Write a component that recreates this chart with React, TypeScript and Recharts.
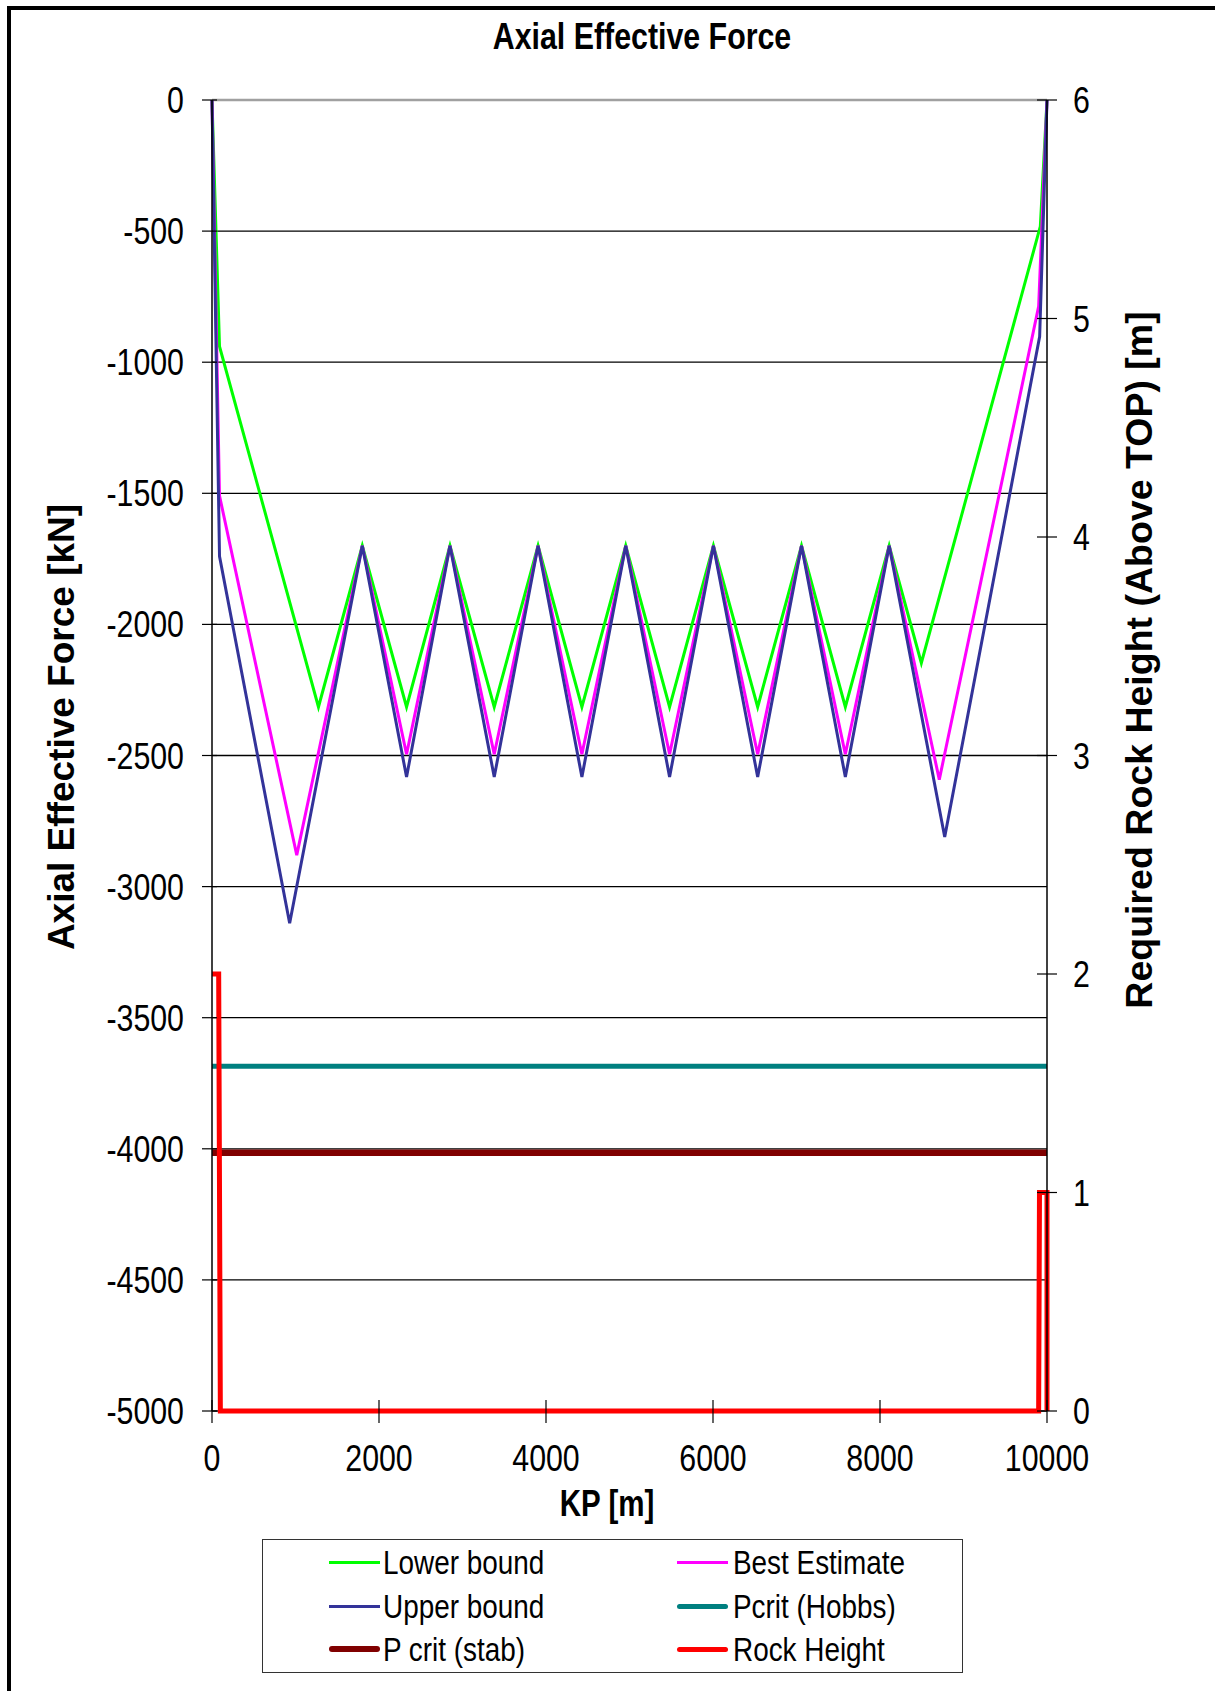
import React from 'react'
import { LineChart, Line, XAxis, YAxis, CartesianGrid, ReferenceLine } from 'recharts'

// KP [m] / axial effective force [kN]
const lowerKp = [0, 90, 1275, 1800, 2330, 2850, 3380, 3905, 4430, 4955, 5480, 6005, 6535, 7060, 7585, 8110, 8495, 9920, 10000]
const lowerKn = [0, -940, -2315, -1700, -2315, -1700, -2315, -1700, -2315, -1700, -2315, -1700, -2315, -1700, -2315, -1700, -2147, -482, 0]

const bestKp = [0, 90, 1015, 1800, 2330, 2850, 3380, 3905, 4430, 4955, 5480, 6005, 6535, 7060, 7585, 8110, 8710, 9900, 10000]
const bestKn = [0, -1510, -2880, -1700, -2495, -1700, -2495, -1700, -2495, -1700, -2495, -1700, -2495, -1700, -2495, -1700, -2592, -787, 0]

const upperKp = [0, 90, 930, 1800, 2330, 2850, 3380, 3905, 4430, 4955, 5480, 6005, 6535, 7060, 7585, 8110, 8775, 9912, 10000]
const upperKn = [0, -1740, -3140, -1700, -2582, -1700, -2582, -1700, -2582, -1700, -2582, -1700, -2582, -1700, -2582, -1700, -2811, -902, 0]

const hobbsKp = [0, 10000]
const hobbsKn = [-3685, -3685]

const stabKp = [0, 10000]
const stabKn = [-4015, -4015]

// rock height on the right axis [m]
const rockKp = [0, 80, 100, 9900, 9910, 10000, 10000]
const rockH = [2, 2, 0, 0, 1, 1, 0]

const xTicks = [0, 2000, 4000, 6000, 8000, 10000]
const forceTicks = [-5000, -4500, -4000, -3500, -3000, -2500, -2000, -1500, -1000, -500, 0]
const rockTicks = [0, 1, 2, 3, 4, 5, 6]

const pts = (xs: number[], ys: number[]) => xs.map((x, i) => ({ x, y: ys[i] }))

const W = 1215
const H = 1691
const FONT = '"Liberation Sans", Arial, sans-serif'

const legendItems = [
  { label: 'Lower bound', color: '#00ff00', w: 3 },
  { label: 'Best Estimate', color: '#ff00ff', w: 3 },
  { label: 'Upper bound', color: '#333399', w: 3 },
  { label: 'Pcrit (Hobbs)', color: '#008080', w: 5 },
  { label: 'P crit (stab)', color: '#800000', w: 6 },
  { label: 'Rock Height', color: '#ff0000', w: 5 },
]

function LeftTick({ x, y, payload }: any) {
  return (
    <g>
      <line x1={x + 18} x2={x + 33} y1={y} y2={y} stroke="#000" strokeWidth={1.2} />
      <text transform={`translate(${x},${y + 13}) scale(0.82,1)`} textAnchor="end" fontSize={37} fontFamily={FONT} fill="#000">
        {String(payload.value)}
      </text>
    </g>
  )
}

function RightTick({ x, y, payload }: any) {
  return (
    <g>
      <line x1={x - 36} x2={x - 16} y1={y} y2={y} stroke="#000" strokeWidth={1.2} />
      <text transform={`translate(${x},${y + 13}) scale(0.82,1)`} textAnchor="start" fontSize={37} fontFamily={FONT} fill="#000">
        {String(payload.value)}
      </text>
    </g>
  )
}

function BottomTick({ x, y, payload }: any) {
  return (
    <g>
      <line x1={x} x2={x} y1={y - 45} y2={y - 22} stroke="#000" strokeWidth={1.2} />
      <text transform={`translate(${x},${y + 26}) scale(0.82,1)`} textAnchor="middle" fontSize={37} fontFamily={FONT} fill="#000">
        {String(payload.value)}
      </text>
    </g>
  )
}

const abs = (left: number, top: number): React.CSSProperties => ({ position: 'absolute', left, top, whiteSpace: 'nowrap', lineHeight: 1 })

export default function App() {
  return (
    <div style={{ position: 'absolute', left: 0, top: 0, width: W, height: H, background: '#fff', overflow: 'hidden', fontFamily: FONT, color: '#000' }}>
      <div style={{ position: 'absolute', left: 7, top: 6, width: W, height: H, borderTop: '4px solid #000', borderLeft: '4px solid #000' }} />

      <div style={{ position: 'absolute', left: 0, top: 0 }}>
        <LineChart width={W} height={H} margin={{ top: 100, right: 0, bottom: 220, left: 0 }}>
          <CartesianGrid horizontal vertical={false} stroke="#000" strokeWidth={1.3} />
          <XAxis
            type="number"
            dataKey="x"
            domain={[0, 10000]}
            ticks={xTicks}
            interval={0}
            height={60}
            tickSize={12}
            tickMargin={22}
            tickLine={false}
            axisLine={false}
            tick={(p: any) => <BottomTick {...p} />}
          />
          <YAxis
            type="number"
            domain={[-5000, 0]}
            ticks={forceTicks}
            interval={0}
            width={212}
            tickSize={10}
            tickMargin={18}
            tickLine={false}
            axisLine={{ stroke: '#000', strokeWidth: 1.5 }}
            tick={(p: any) => <LeftTick {...p} />}
          />
          <YAxis
            yAxisId="right"
            orientation="right"
            type="number"
            domain={[0, 6]}
            ticks={rockTicks}
            interval={0}
            width={168}
            tickSize={10}
            tickMargin={16}
            tickLine={false}
            axisLine={{ stroke: '#000', strokeWidth: 1.5 }}
            tick={(p: any) => <RightTick {...p} />}
          />
          <ReferenceLine y={0} stroke="#a0a0a0" strokeWidth={2.5} />
          <Line data={pts(lowerKp, lowerKn)} dataKey="y" type="linear" stroke="#00ff00" strokeWidth={3} dot={false} isAnimationActive={false} />
          <Line data={pts(bestKp, bestKn)} dataKey="y" type="linear" stroke="#ff00ff" strokeWidth={3} dot={false} isAnimationActive={false} />
          <Line data={pts(upperKp, upperKn)} dataKey="y" type="linear" stroke="#333399" strokeWidth={3} dot={false} isAnimationActive={false} />
          <Line data={pts(hobbsKp, hobbsKn)} dataKey="y" type="linear" stroke="#008080" strokeWidth={5} dot={false} isAnimationActive={false} />
          <Line data={pts(stabKp, stabKn)} dataKey="y" type="linear" stroke="#800000" strokeWidth={6.5} dot={false} isAnimationActive={false} />
          <Line data={pts(rockKp, rockH)} yAxisId="right" dataKey="y" type="linear" stroke="#ff0000" strokeWidth={5} dot={false} isAnimationActive={false} />
        </LineChart>
      </div>

      {/* title and axis titles */}
      <div style={{ ...abs(642, 36), fontSize: 37, fontWeight: 700, transform: 'translate(-50%,-50%) scaleX(0.82)' }}>Axial Effective Force</div>
      <div style={{ ...abs(61, 727), fontSize: 37, fontWeight: 700, transform: 'translate(-50%,-50%) rotate(-90deg)' }}>Axial Effective Force [kN]</div>
      <div style={{ ...abs(1140, 660), fontSize: 37.5, fontWeight: 700, transform: 'translate(-50%,-50%) rotate(-90deg)' }}>Required Rock Height (Above TOP) [m]</div>
      <div style={{ ...abs(607, 1504), fontSize: 36, fontWeight: 700, transform: 'translate(-50%,-50%) scaleX(0.82)' }}>KP [m]</div>

      {/* legend */}
      <div style={{ position: 'absolute', left: 262, top: 1539, width: 699, height: 132, border: '1.5px solid #333' }} />
      {legendItems.map((it, i) => {
        const col = i % 2
        const row = Math.floor(i / 2)
        const cy = [1562, 1606, 1649][row]
        const lx = col === 0 ? 329 : 677
        const tx = col === 0 ? 383 : 733
        return (
          <React.Fragment key={it.label}>
            <div style={{ position: 'absolute', left: lx, top: cy - it.w / 2, width: 51, height: it.w, background: it.color, borderRadius: it.w > 3 ? it.w / 2 : 0 }} />
            <div style={{ ...abs(tx, cy), fontSize: 34, transform: 'translateY(-50%) scaleX(0.82)', transformOrigin: 'left center' }}>{it.label}</div>
          </React.Fragment>
        )
      })}
    </div>
  )
}
